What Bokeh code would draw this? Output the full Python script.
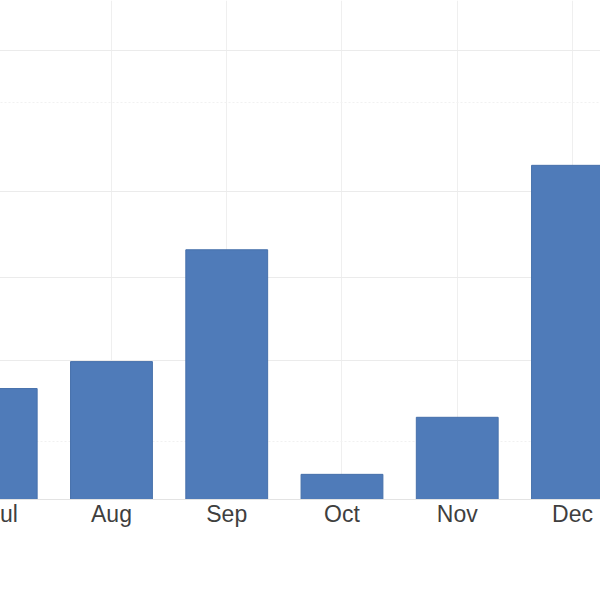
from bokeh.plotting import figure
from bokeh.models import ColumnDataSource, FixedTicker, Range1d
from bokeh.embed import file_html
from bokeh.resources import INLINE

months = ["Jul", "Aug", "Sep", "Oct", "Nov", "Dec"]
values = [24.7, 30.7, 55.6, 5.6, 18.3, 74.4]
grid_values = [31.0, 49.5, 68.5, 100.0]
minor_grid_values = [13.0, 88.5]

xs = list(range(len(months)))
src = ColumnDataSource(dict(x=xs, top=values, month=months))

p = figure(width=612, height=600, output_backend="svg", toolbar_location=None,
           x_range=Range1d(-0.067, 5.243), y_range=Range1d(0, 111.1),
           min_border_left=0, min_border_right=0, min_border_top=0,
           min_border_bottom=101, outline_line_color=None)
p.styles = {"margin-left": "-12px"}

p.vbar(x="x", top="top", width=0.71, bottom=0, source=src,
       fill_color="#4f7bb9", line_color="#4670ab", line_width=1)

p.yaxis.visible = False
p.yaxis.ticker = FixedTicker(ticks=grid_values, minor_ticks=minor_grid_values)
p.ygrid.ticker = FixedTicker(ticks=grid_values, minor_ticks=minor_grid_values)
p.ygrid.grid_line_color = "#ebebeb"
p.ygrid.grid_line_width = 1
p.ygrid.minor_grid_line_color = "#f1f1f1"
p.ygrid.minor_grid_line_dash = "2 2"

p.xaxis.ticker = FixedTicker(ticks=xs)
p.xaxis.major_label_overrides = {i: m for i, m in zip(xs, months)}
p.xgrid.ticker = FixedTicker(ticks=xs)
p.xgrid.grid_line_color = "#efefef"
p.xaxis.axis_line_color = "#e3e3e3"
p.xaxis.major_tick_line_color = None
p.xaxis.minor_tick_line_color = None
p.xaxis.major_label_text_font = "Liberation Sans"
p.xaxis.major_label_text_font_size = "23px"
p.xaxis.major_label_text_color = "#3f3f3f"
p.xaxis.major_label_standoff = -5

open("out.html", "w").write(file_html(p, INLINE))
